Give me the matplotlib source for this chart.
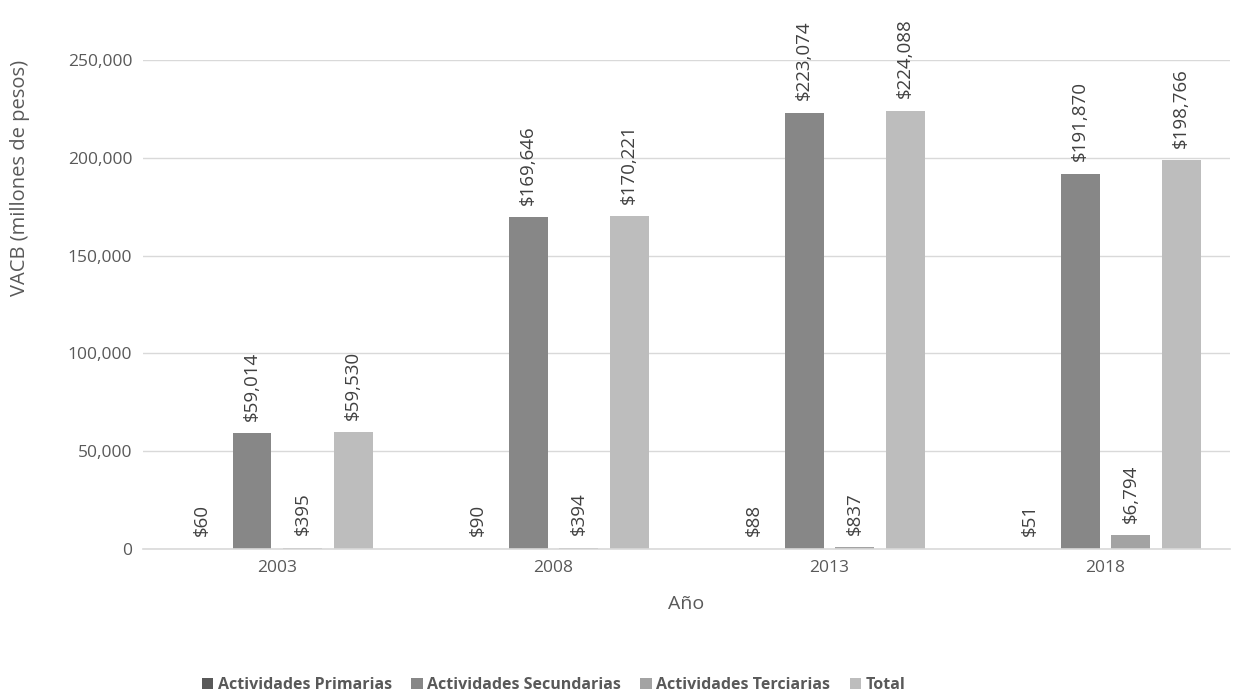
import matplotlib.pyplot as plt
import numpy as np

plt.rcParams['font.family'] = ['Open Sans', 'DejaVu Sans']

# Data
years = ['2003', '2008', '2013', '2018']
series = ['Actividades Primarias', 'Actividades Secundarias',
          'Actividades Terciarias', 'Total']
primarias = [60, 90, 88, 51]
secundarias = [59014, 169646, 223074, 191870]
terciarias = [395, 394, 837, 6794]
total = [59530, 170221, 224088, 198766]

colors = ['#595959', '#878787', '#a3a3a3', '#bdbdbd']

fig = plt.figure(figsize=(12.36, 6.92), dpi=100)
ax = fig.add_axes([0.116, 0.207, 0.879, 0.706])

x = np.arange(len(years))
slot = 0.183
width = 0.141

for i, (name, vals) in enumerate(zip(series, [primarias, secundarias, terciarias, total])):
    pos = x + (i - 1.5) * slot
    ax.bar(pos, vals, width, color=colors[i], label=name, zorder=2)
    for p, v in zip(pos, vals):
        ax.annotate(f'${v:,}', (p, v), xytext=(0, 9), textcoords='offset points',
                    rotation=90, ha='center', va='bottom', fontsize=13.5,
                    color='#404040', clip_on=False)

ax.set_xlim(-0.485, 3.45)
ax.set_ylim(0, 250000)
ax.set_yticks(np.arange(0, 250001, 50000))
ax.yaxis.set_major_formatter(plt.FuncFormatter(lambda v, _: f'{int(v):,}'))
ax.set_xticks(x)
ax.set_xticklabels(years)
ax.tick_params(axis='both', length=0, labelsize=12.5, colors='#595959', pad=8)
ax.grid(axis='y', color='#d9d9d9', linewidth=1, zorder=0)
for s in ['top', 'right', 'left']:
    ax.spines[s].set_visible(False)
ax.spines['bottom'].set_color('#d9d9d9')
ax.spines['bottom'].set_linewidth(1.2)

ax.set_xlabel('Año', fontsize=14, color='#595959', labelpad=14)
ax.set_ylabel('VACB (millones de pesos)', fontsize=14.5, color='#595959')
ax.yaxis.set_label_coords(-0.104, 0.76)

leg = fig.legend(loc='lower center', bbox_to_anchor=(0.448, -0.022), ncol=4,
                 frameon=False, handlelength=0.7, handleheight=0.7,
                 handletextpad=0.3, columnspacing=1.2,
                 prop={'weight': 'bold', 'size': 11.5})
for t in leg.get_texts():
    t.set_color('#595959')

plt.savefig('out.png', dpi=100)
